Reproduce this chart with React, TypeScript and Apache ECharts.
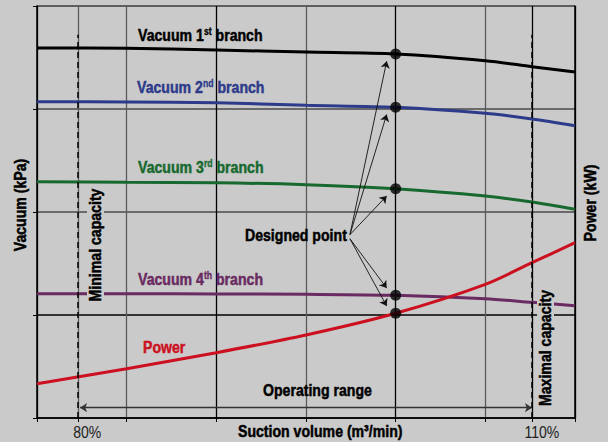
import React, { useEffect, useRef } from "react";
import * as echarts from "echarts";

// grid-unit x positions (6 equal divisions of the suction-volume axis)
const xPos = [0, 1, 2, 3, 4, 5, 5.52, 6];
const vac1 = [3.592, 3.589, 3.573, 3.553, 3.534, 3.469, 3.411, 3.359];
const vac2 = [3.071, 3.068, 3.061, 3.036, 3.017, 2.958, 2.903, 2.838];
const vac3 = [2.294, 2.288, 2.284, 2.265, 2.226, 2.155, 2.097, 2.026];
const vac4 = [1.207, 1.207, 1.204, 1.201, 1.191, 1.158, 1.123, 1.09];
const power = [0.333, 0.479, 0.634, 0.806, 1.017, 1.298, 1.508, 1.702];
const designIndex = 4;

const pctLabels = ["80%", "110%"];
const pctLabelPos = [0.56, 5.63];
const capacityPos = [0.46, 5.52];
const operatingRange = [0.48, 5.52];

const FONT = "'Liberation Sans', Arial, sans-serif";
const NARROW = 0.83;
const FS = 17;
const BG = "#c9cac9";

const COLORS = {
  v1: "#000000",
  v2: "#2d3b8a",
  v3: "#17692f",
  v4: "#6a2a62",
  pw: "#cc1020",
};

function pair(xs: number[], ys: number[]) {
  return xs.map((x, i) => [x, ys[i]]);
}

function labelText(x: number, y: number, num: string, sup: string, color: string) {
  return {
    type: "text",
    x,
    y,
    z: 100,
    scaleX: NARROW,
    style: {
      text: `{a|Vacuum ${num}}{s|${sup}}{a| branch}`,
      fill: color,
      verticalAlign: "middle",
      rich: {
        a: {
          fontFamily: FONT, fontWeight: "bold", fontSize: FS, lineHeight: 18, fill: color,
          stroke: color, lineWidth: 0.5,
        },
        s: {
          fontFamily: FONT, fontWeight: "bold", fontSize: 10.5, lineHeight: 18, verticalAlign: "top", fill: color,
          stroke: color, lineWidth: 0.3,
        },
      },
    },
  };
}

function plainText(x: number, y: number, text: string, color: string, extra: any = {}) {
  const { style, ...rest } = extra;
  return {
    type: "text",
    x,
    y,
    z: 100,
    scaleX: NARROW,
    ...rest,
    style: {
      text,
      fill: color,
      fontFamily: FONT,
      fontWeight: "bold",
      fontSize: FS,
      verticalAlign: "middle",
      stroke: color,
      lineWidth: 0.5,
      ...(style || {}),
    },
  };
}

export default function App() {
  const ref = useRef<HTMLDivElement>(null);
  useEffect(() => {
    const chart = echarts.init(ref.current!, null, { renderer: "svg" });
    const dx = xPos[designIndex];
    const designPts = [vac1, vac2, vac3, vac4, power].map((s) => [dx, s[designIndex]]);
    const arrowOrigin = [3.49, 1.76];
    const arrowTipOffset = [-0.1, 0.07];
    const arrowLines = designPts.map((p, i) => [
      { coord: [arrowOrigin[0], arrowOrigin[1] + (i < 3 ? 0.02 : -0.02)], symbol: "none" },
      {
        coord: [p[0] + arrowTipOffset[0], p[1] + (i < 3 ? -arrowTipOffset[1] : arrowTipOffset[1])],
        symbol: "arrow",
      },
    ]);

    const lineSeries = (data: number[], color: string) => ({
      type: "line",
      data: pair(xPos, data),
      smooth: 0.3,
      showSymbol: false,
      lineStyle: { color, width: 3 },
      z: 3,
    });

    const baseGraphic = [
      labelText(138, 35, "1", "st", COLORS.v1),
      labelText(137, 87, "2", "nd", COLORS.v2),
      labelText(138, 167, "3", "rd", COLORS.v3),
      labelText(138, 279, "4", "th", COLORS.v4),
      plainText(143, 347, "Power", COLORS.pw),
      plainText(245, 235, "Designed point", "#000"),
      plainText(263, 390, "Operating range", "#000"),
      plainText(238, 431, "Suction volume (m³/min)", "#000"),
      plainText(20.5, 205, "Vacuum (kPa)", "#000", { rotation: Math.PI / 2, style: { align: "center" } }),
      plainText(590, 203, "Power (kW)", "#000", { rotation: Math.PI / 2, style: { align: "center" } }),
      plainText(95.5, 245, "Minimal capacity", "#000", {
        rotation: Math.PI / 2,
        style: { align: "center", backgroundColor: BG, padding: [0, 3] },
      }),
      plainText(545.5, 348, "Maximal capacity", "#000", {
        rotation: Math.PI / 2,
        style: { align: "center", backgroundColor: BG, padding: [0, 3] },
      }),
    ];

    chart.setOption({
      animation: false,
      backgroundColor: BG,
      grid: { left: 37, right: 33, top: 6, bottom: 24 },
      xAxis: {
        type: "value",
        min: 0,
        max: 6,
        interval: 1,
        axisLine: { show: true, lineStyle: { color: "#000", width: 1.5 } },
        axisTick: {
          show: true,
          length: 4,
          lineStyle: { color: "#000" },
          customValues: [0, 1, 2, 3, 4, 5, 6, ...capacityPos],
        },
        axisLabel: { show: false },
        splitLine: { show: true, lineStyle: { color: ["#000", "#5a5a5a"], width: 1.3 } },
      },
      yAxis: [
        {
          type: "value",
          min: 0,
          max: 4,
          interval: 1,
          axisLine: { show: true, lineStyle: { color: "#000", width: 1.5 } },
          axisTick: { show: true, length: 4, lineStyle: { color: "#000" } },
          axisLabel: { show: false },
          splitLine: {
            show: true,
            lineStyle: { color: ["#000", "#000", "#4a4a4a", "#4a4a4a", "#3a3a3a"], width: 1.5 },
          },
        },
        {
          type: "value",
          position: "right",
          min: 0,
          max: 4,
          interval: 1,
          axisLine: { show: true, lineStyle: { color: "#000", width: 1.5 } },
          axisTick: { show: false },
          axisLabel: { show: false },
          splitLine: { show: false },
        },
      ],
      series: [
        lineSeries(vac1, COLORS.v1),
        lineSeries(vac2, COLORS.v2),
        lineSeries(vac3, COLORS.v3),
        lineSeries(vac4, COLORS.v4),
        lineSeries(power, COLORS.pw),
        {
          type: "scatter",
          data: designPts,
          symbolSize: 11,
          itemStyle: { color: "#000" },
          z: 5,
          markLine: {
            silent: true,
            symbol: ["none", "arrow"],
            symbolSize: 7,
            label: { show: false },
            lineStyle: { color: "#111", width: 0.9, type: "solid" },
            data: [
              ...arrowLines,
              [
                {
                  coord: [operatingRange[0], 0.1],
                  symbol: "arrow",
                  lineStyle: { color: "#333", width: 1.4, type: "solid" },
                },
                { coord: [operatingRange[1], 0.1], symbol: "arrow" },
              ],
              ...capacityPos.map((c) => [
                { coord: [c, 0], symbol: "none", lineStyle: { type: [6, 4], width: 1.5, color: "#000" } },
                { coord: [c, 3.72], symbol: "none" },
              ]),
            ],
          },
        },
      ],
      graphic: baseGraphic,
    });

    const pctGraphic = pctLabels.map((t, i) => {
      const px = chart.convertToPixel({ xAxisIndex: 0 }, pctLabelPos[i]) as number;
      return {
        type: "text",
        x: px,
        y: 432.5,
        z: 100,
        scaleX: 0.85,
        style: {
          text: t,
          fill: "#222",
          fontFamily: FONT,
          fontSize: 16.5,
          align: "center",
          verticalAlign: "middle",
        },
      };
    });
    chart.setOption({ graphic: [...baseGraphic, ...pctGraphic] });

    return () => chart.dispose();
  }, []);
  return (
    <div
      ref={ref}
      style={{ position: "fixed", left: 0, top: 0, width: 608, height: 442, background: BG }}
    />
  );
}
